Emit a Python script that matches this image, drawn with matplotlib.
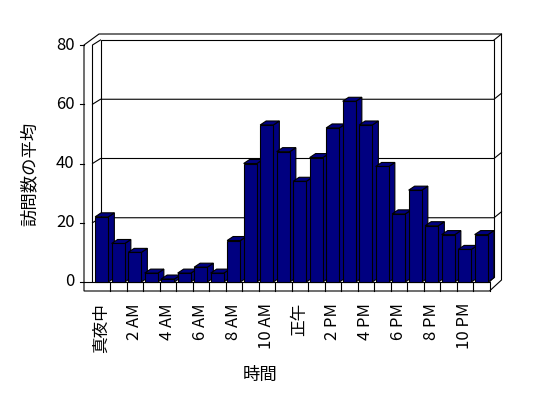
import matplotlib
matplotlib.use('Agg')
import matplotlib.pyplot as plt
from matplotlib.patches import Polygon
from matplotlib.transforms import IdentityTransform
from matplotlib.lines import Line2D

# ---- data ----
hours = list(range(24))
values = [22, 13, 10, 3, 1, 3, 5, 3, 14, 40, 53, 44,
          34, 42, 52, 61, 53, 39, 23, 31, 19, 16, 11, 16]
tick_pos = list(range(0, 24, 2))
tick_labels = ['真夜中', '2 AM', '4 AM', '6 AM', '8 AM', '10 AM',
               '正午', '2 PM', '4 PM', '6 PM', '8 PM', '10 PM']
y_ticks = [0, 20, 40, 60, 80]
y_label = '訪問数の平均'
x_label = '時間'

FONT = ['Noto Sans CJK JP', 'DejaVu Sans']
plt.rcParams['font.family'] = FONT

W, H = 548, 398
fig = plt.figure(figsize=(W / 100, H / 100), dpi=100)
fig.patch.set_facecolor('white')
ax = fig.add_axes([93.5 / W, 116 / H, 396 / W, 237 / H])
ax.set_xlim(-0.5, 23.5)
ax.set_ylim(0, 80)
ax.set_axis_off()
I = IdentityTransform()
LW = 0.8
NAVY = '#000080'


def px(x, y):
    return ax.transData.transform((x, y))


def poly(pts, fc='white', z=1):
    ax.add_patch(Polygon(pts, closed=True, facecolor=fc, edgecolor='black',
                         linewidth=LW, transform=I, clip_on=False, zorder=z))


def line(pts, z=1.5):
    xs = [p[0] for p in pts]
    ys = [p[1] for p in pts]
    ax.add_line(Line2D(xs, ys, color='black', lw=LW, transform=I,
                       clip_on=False, zorder=z))


xL, yB = px(-0.5, 0)
xR, yT = px(23.5, 80)
dxL, dxR, dy = 7, 4.5, 5   # depth offsets (inner back plane)
ox, oy = 12, 11            # outer slab

# silhouette
poly([(xL - 9.5, yB - 9), (xL - 9.5, yT), (xL + 5.5, yT + oy),
      (xR + ox, yT + oy), (xR + ox, yB + 2), (xR, yB - 9)], z=0.5)
# back wall inner face
poly([(xL + dxL, yB + dy), (xR + dxR, yB + dy), (xR + dxR, yT + dy),
      (xL + dxL, yT + dy)], z=0.6)
# left wall inner edge + top
line([(xL - 1, yB), (xL - 1, yT), (xL + dxL, yT + dy)])
line([(xR + dxR, yT + dy), (xR + ox, yT + oy)])
# floor
line([(xL - 9.5, yB), (xR, yB), (xR, yB - 9)])
line([(xR, yB), (xR + dxR, yB + dy)])
for k in range(1, 24):
    xk = px(k - 0.5, 0)[0]
    line([(xk, yB), (xk, yB - 9)])

# gridlines
for v in y_ticks[1:-1]:
    yv = px(0, v)[1]
    line([(xL - 1, yv), (xL + dxL, yv + dy), (xR + dxR, yv + dy),
          (xR + ox, yv + oy)], z=0.7)

# y ticks & labels
for v in y_ticks:
    yv = px(0, v)[1]
    line([(xL - 13.5, yv), (xL - 9.5, yv)])
    ax.text(xL - 19, yv, str(v), transform=I, ha='right', va='center',
            fontsize=12, family=FONT)

# bars: depth faces then fronts
bw = 0.8
bdx, bdy = 6, 4
for i, v in zip(hours, values):
    xl = px(i - bw / 2, 0)[0]
    xr = px(i + bw / 2, 0)[0]
    yt = px(i, v)[1]
    poly([(xr, yB), (xr + bdx, yB + bdy), (xr + bdx, yt + bdy), (xr, yt)],
         fc=NAVY, z=2)
    poly([(xl, yt), (xr, yt), (xr + bdx, yt + bdy), (xl + bdx, yt + bdy)],
         fc=NAVY, z=2)
ax.bar(hours, values, width=bw, color=NAVY, edgecolor='black',
       linewidth=LW, zorder=3, clip_on=False)

# x tick labels
for p, lab in zip(tick_pos, tick_labels):
    xp = px(p, 0)[0]
    ax.text(xp, yB - 21, lab, transform=I, rotation=90, ha='center',
            va='top', fontsize=12, family=FONT)

fig.text(30 / W, (H - 174) / H, y_label, rotation=90, ha='center',
         va='center', fontsize=12.5, family=FONT)
fig.text(260 / W, (H - 375) / H, x_label, ha='center', va='center',
         fontsize=12.5, family=FONT)

fig.savefig('out.png', dpi=100, facecolor='white')
